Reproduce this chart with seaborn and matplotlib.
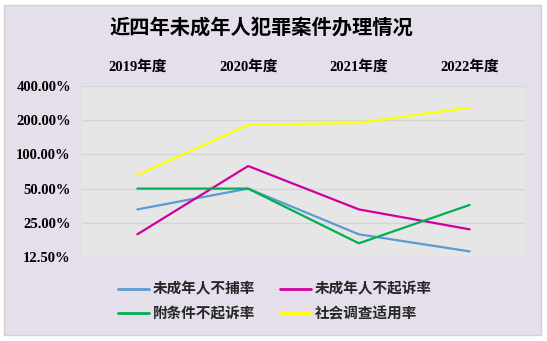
import matplotlib
matplotlib.use("Agg")
import matplotlib.pyplot as plt
from matplotlib.patches import Rectangle
from matplotlib.ticker import FixedLocator, FuncFormatter, NullLocator
import seaborn as sns
import pandas as pd

# Data: yearly rates (as fractions)
years = ["2019年度", "2020年度", "2021年度", "2022年度"]
series_names = ["未成年人不捕率", "未成年人不起诉率", "附条件不起诉率", "社会调查适用率"]
no_arrest = [0.328, 0.50, 0.198, 0.140]
no_prosecution = [0.198, 0.79, 0.328, 0.219]
conditional = [0.50, 0.50, 0.165, 0.359]
social_survey = [0.66, 1.816, 1.90, 2.58]
y_ticks = [0.125, 0.25, 0.5, 1.0, 2.0, 4.0]

colors = ["#5B9BD5", "#D0009E", "#00B050", "#FFFF00"]

rows = []
for name, vals in zip(series_names, [no_arrest, no_prosecution, conditional, social_survey]):
    for yr, v in zip(years, vals):
        rows.append({"年度": yr, "比率": v, "指标": name})
df = pd.DataFrame(rows)

sns.set_theme(style="white")
plt.rcParams["font.family"] = ["Liberation Serif", "Noto Sans CJK SC", "DejaVu Sans"]
plt.rcParams["font.weight"] = "bold"

W, H = 547, 341
fig = plt.figure(figsize=(W / 100, H / 100), dpi=100, facecolor="white")

# Chart frame
fig.patches.append(Rectangle((4 / W, 1 - 335 / H), 537 / W, 330 / H,
                             transform=fig.transFigure, facecolor="#E4DFEB",
                             edgecolor="#D4D0D8", linewidth=1.0, zorder=-10))

ax = fig.add_axes([82 / W, 1 - 257 / H, 443 / W, 171 / H])
ax.set_facecolor("#E6E6E6")

sns.lineplot(data=df, x="年度", y="比率", hue="指标", hue_order=series_names,
             palette=colors, linewidth=1.6, ax=ax, legend=True, sort=False)

ax.set_yscale("log", base=2)
ax.set_ylim(0.125, 4.0)
ax.set_xlim(-0.5, 3.5)
ax.yaxis.set_major_locator(FixedLocator(y_ticks))
ax.yaxis.set_minor_locator(NullLocator())
ax.yaxis.set_major_formatter(FuncFormatter(lambda v, p: f"{v * 100:.2f}%"))
ax.grid(axis="y", color="#D5D5D5", linewidth=1.0)
ax.grid(axis="x", visible=False)
for s in ax.spines.values():
    s.set_visible(False)

ax.xaxis.tick_top()
ax.set_xticks(range(len(years)))
ax.set_xticklabels(years)
ax.tick_params(axis="x", length=0, pad=9, labelsize=10.5, labelcolor="black")
ax.tick_params(axis="y", length=0, pad=8, labelsize=10.5, labelcolor="black")
for lbl in ax.get_xticklabels() + ax.get_yticklabels():
    lbl.set_fontweight("bold")
ax.set_xlabel("")
ax.set_ylabel("")

fig.text(261 / W, 1 - 28 / H, "近四年未成年人犯罪案件办理情况", ha="center", va="center",
         fontsize=14.6, fontweight="bold", color="black",
         family=["Noto Sans CJK SC", "DejaVu Sans"])

handles, labels = ax.get_legend_handles_labels()
ax.get_legend().remove()
order = [0, 2, 1, 3]
leg = fig.legend([handles[i] for i in order], [labels[i] for i in order],
                 ncol=2, frameon=False,
                 loc="center", bbox_to_anchor=(275 / W, 1 - 301 / H),
                 prop={"family": ["Noto Sans CJK SC", "DejaVu Sans"], "weight": "bold", "size": 10.5},
                 handlelength=2.1, handletextpad=0.3, columnspacing=1.7, labelspacing=0.6)
for line in leg.get_lines():
    line.set_linewidth(2.0)

fig.savefig("out.png", dpi=100, facecolor="white")
